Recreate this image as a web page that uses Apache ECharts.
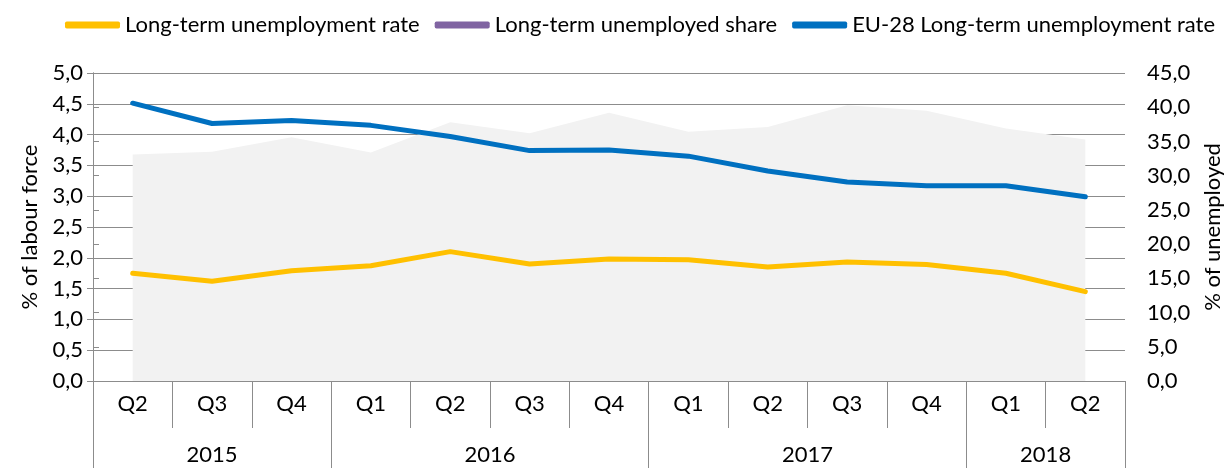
<!DOCTYPE html>
<html>
<head>
<meta charset="utf-8">
<script src="https://cdn.jsdelivr.net/npm/echarts@6/dist/echarts.min.js"></script>
<style>
  html, body { margin: 0; padding: 0; background: #fff; }
  #chart { width: 1228px; height: 468px; }
</style>
</head>
<body>
<div id="chart"></div>
<script>
// categories
const quarters = ['Q2', 'Q3', 'Q4', 'Q1', 'Q2', 'Q3', 'Q4', 'Q1', 'Q2', 'Q3', 'Q4', 'Q1', 'Q2'];
const years = ['2015', '2016', '2017', '2018'];
const yearSpans = [3, 4, 4, 2];

// series values
const ltRate = [1.75, 1.62, 1.79, 1.87, 2.10, 1.90, 1.98, 1.97, 1.85, 1.93, 1.89, 1.75, 1.45];
const ltShare = [33.1, 33.5, 35.6, 33.4, 37.8, 36.2, 39.2, 36.4, 37.1, 40.3, 39.5, 36.9, 35.3];
const eu28Rate = [4.51, 4.18, 4.23, 4.15, 3.97, 3.74, 3.75, 3.65, 3.41, 3.23, 3.17, 3.17, 2.99];

const seriesNames = ['Long-term unemployment rate', 'Long-term unemployed share', 'EU-28 Long-term unemployment rate'];

// year boundaries and label positions (in category units)
const yearBounds = [0];
const yearMids = [];
yearSpans.forEach(s => {
  const start = yearBounds[yearBounds.length - 1];
  yearMids.push(start + s / 2);
  yearBounds.push(start + s);
});
// quarter dividers
const quarterBounds = quarters.map((q, i) => i).concat([quarters.length]);

const FONT = 'Lato';
const GREY = '#8c8c8c';
const comma = v => v.toFixed(1).replace('.', ',');

const chart = echarts.init(document.getElementById('chart'));

const option = {
  animation: false,
  textStyle: { fontFamily: FONT, color: '#000' },
  legend: {
    top: 14,
    left: 65,
    width: 1163,
    padding: 0,
    itemWidth: 55,
    itemHeight: 7,
    itemGap: 15,
    icon: 'roundRect',
    textStyle: { fontFamily: FONT, fontSize: 22, color: '#000' },
    data: [
      { name: seriesNames[0], itemStyle: { color: '#ffc000' } },
      { name: seriesNames[1], itemStyle: { color: '#8064a2' } },
      { name: seriesNames[2], itemStyle: { color: '#0070c0' } }
    ]
  },
  grid: { left: 93, right: 103, top: 73, bottom: 87, containLabel: false, outerBoundsMode: 'none' },
  xAxis: [
    {
      type: 'category',
      data: quarters,
      axisLine: { lineStyle: { color: GREY, width: 1 } },
      axisTick: { show: true, interval: 0, length: 47, lineStyle: { color: GREY } },
      axisLabel: { interval: 0, margin: 12, fontSize: 22, color: '#000', fontFamily: FONT },
      splitLine: { show: false }
    },
    {
      // quarter dividers
      type: 'value',
      min: 0,
      max: quarters.length,
      position: 'bottom',
      axisLine: { show: false },
      splitLine: { show: false },
      axisTick: { show: true, customValues: quarterBounds, length: 47, lineStyle: { color: GREY } },
      axisLabel: { show: false }
    },
    {
      // year row
      type: 'value',
      min: 0,
      max: quarters.length,
      position: 'bottom',
      axisLine: { show: false },
      splitLine: { show: false },
      axisTick: { show: true, customValues: yearBounds, length: 90, lineStyle: { color: GREY } },
      axisLabel: {
        customValues: yearMids,
        margin: 63,
        fontSize: 22,
        color: '#000',
        fontFamily: FONT,
        formatter: v => years[yearMids.indexOf(v)]
      }
    }
  ],
  yAxis: [
    {
      type: 'value',
      min: 0,
      max: 5,
      interval: 0.5,
      name: '% of labour force',
      nameLocation: 'middle',
      nameGap: 52,
      nameTextStyle: { fontSize: 22, color: '#000', fontFamily: FONT },
      axisLine: { show: true, lineStyle: { color: GREY } },
      axisTick: { show: true, length: 6, lineStyle: { color: GREY } },
      axisLabel: { formatter: comma, fontSize: 22, color: '#000', margin: 10, fontFamily: FONT },
      splitLine: { lineStyle: { color: GREY, width: 1 } }
    },
    {
      type: 'value',
      min: 0,
      max: 45,
      interval: 5,
      position: 'right',
      name: '% of unemployed',
      nameLocation: 'middle',
      nameGap: 77,
      nameTextStyle: { fontSize: 22, color: '#000', fontFamily: FONT },
      axisLine: { show: true, lineStyle: { color: GREY } },
      axisTick: { show: true, length: 6, lineStyle: { color: GREY } },
      axisLabel: { formatter: comma, fontSize: 22, color: '#000', margin: 22, fontFamily: FONT },
      splitLine: { show: false }
    }
  ],
  series: [
    {
      name: seriesNames[1],
      type: 'line',
      yAxisIndex: 1,
      data: ltShare,
      showSymbol: false,
      symbol: 'none',
      itemStyle: { color: '#8064a2' },
      lineStyle: { width: 0, opacity: 0 },
      areaStyle: { color: '#f2f2f2', opacity: 1 },
      z: 1
    },
    {
      name: seriesNames[0],
      type: 'line',
      data: ltRate,
      symbol: 'none',
      itemStyle: { color: '#ffc000' },
      lineStyle: { color: '#ffc000', width: 5, cap: 'round', join: 'round' },
      z: 3
    },
    {
      name: seriesNames[2],
      type: 'line',
      data: eu28Rate,
      symbol: 'none',
      itemStyle: { color: '#0070c0' },
      lineStyle: { color: '#0070c0', width: 5, cap: 'round', join: 'round' },
      z: 4
    }
  ]
};

chart.setOption(option);
</script>
</body>
</html>
